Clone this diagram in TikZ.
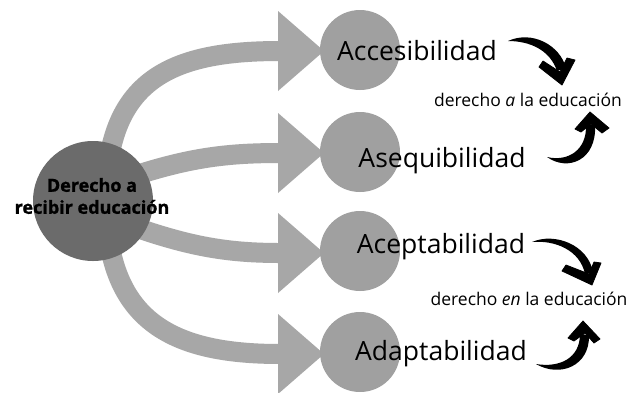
\documentclass[tikz,border=0pt]{standalone}
\usepackage{fontspec}
\setmainfont{Open Sans}
\newfontfamily\heavyfont{Open Sans}[BoldFeatures={FakeBold=1.2}]
\usetikzlibrary{arrows.meta}
\definecolor{bandgray}{HTML}{A7A7A7}
\definecolor{smallgray}{HTML}{A0A0A0}
\definecolor{biggray}{HTML}{6B6B6B}
\tikzset{
  band/.style={draw=bandgray, line width=20pt},
  smallcirc/.style={circle, fill=smallgray, minimum size=80pt, inner sep=0pt},
  bigcirc/.style={circle, fill=biggray, minimum size=120pt, inner sep=0pt},
  lbl/.style={font=\fontsize{26.5}{30}\selectfont, anchor=base, inner sep=0pt},
  small/.style={font=\fontsize{17.5}{20}\selectfont, anchor=base, inner sep=0pt},
  shaft/.style={fill=black},
  arrowhd/.style={fill=black, line join=round, draw=black, line width=0.8pt}
}
\begin{document}
\begin{tikzpicture}[x=1pt,y=-1pt]
\useasboundingbox (0,0) rectangle (632,392);
\fill[white] (0,0) rectangle (632,392);
% coordinates for band ends
\coordinate (e1) at (280,51);
\coordinate (e2) at (280,153);
\coordinate (e3) at (280,253);
\coordinate (e4) at (280,354);
% bands
\draw[band] (106,200) .. controls (106,80) and (170,51) .. (e1);
\draw[band] (93,190) .. controls (175,160) and (215,153) .. (e2);
\draw[band] (93,212) .. controls (175,243) and (215,253) .. (e3);
\draw[band] (106,200) .. controls (106,320) and (170,354) .. (e4);
% arrow heads
\foreach \y in {51,153,253,354}{
  \fill[bandgray] (278,\y-40) -- (324,\y) -- (278,\y+40) -- cycle;
}
% central circle
\node[bigcirc] (c) at (93,201) {};
\node[align=center, font=\heavyfont\bfseries\fontsize{18}{22}\selectfont, inner sep=0pt] (ct) at (92,196) {Derecho a\\recibir educación};
% small circles
\node[smallcirc] (s1) at (360,50) {};
\node[smallcirc] (s2) at (360,152) {};
\node[smallcirc] (s3) at (360,251) {};
\node[smallcirc] (s4) at (360,352) {};
% labels
\node[lbl] (t1) at (417,60) {Accesibilidad};
\node[lbl] (t2) at (442,167) {Asequibilidad};
\node[lbl] (t3) at (441,253) {Aceptabilidad};
\node[lbl] (t4) at (441,360) {Adaptabilidad};
\node[small] (d1) at (528,106) {derecho \textit{a} la educación};
\node[small] (d2) at (529,305) {derecho \textit{en} la educación};
% black arrows: tapered shafts + heads
\coordinate (a1s) at (508,41);
\coordinate (a1e) at (562,85);
\coordinate (a2s) at (547,157);
\coordinate (a2e) at (590,112);
\coordinate (a3s) at (532,242);
\coordinate (a3e) at (592,285);
\coordinate (a4s) at (536,364);
\coordinate (a4e) at (583,321);
% arrow 1
\fill[shaft] (a1s) .. controls (532,30) and (560,45) .. (566,68)
  -- (557,71) .. controls (550,50) and (530,41) .. cycle;
\filldraw[arrowhd] (a1e) -- (539,67) -- (543,61) -- (560,72) -- (567,58) -- (575,60) -- cycle;
% arrow 2
\fill[shaft] (a2s) .. controls (568,172) and (597,160) .. (595,125)
  -- (586,125) .. controls (587,150) and (568,162) .. cycle;
\filldraw[arrowhd] (a2e) -- (575,129) -- (581,132) -- (591,124) -- (602,133) -- (609,128) -- cycle;
% arrow 3
\fill[shaft] (a3s) .. controls (555,232) and (588,245) .. (593,272)
  -- (585,274) .. controls (580,250) and (555,240) .. cycle;
\filldraw[arrowhd] (a3e) -- (562,271) -- (566,265) -- (589,274) -- (594,262) -- (601,263) -- cycle;
% arrow 4
\fill[shaft] (a4s) .. controls (560,378) and (590,366) .. (589,335)
  -- (580,334) .. controls (580,358) and (560,368) .. cycle;
\filldraw[arrowhd] (a4e) -- (568,338) -- (574,341) -- (585,333) -- (594,343) -- (600,339) -- cycle;
\end{tikzpicture}
\end{document}
